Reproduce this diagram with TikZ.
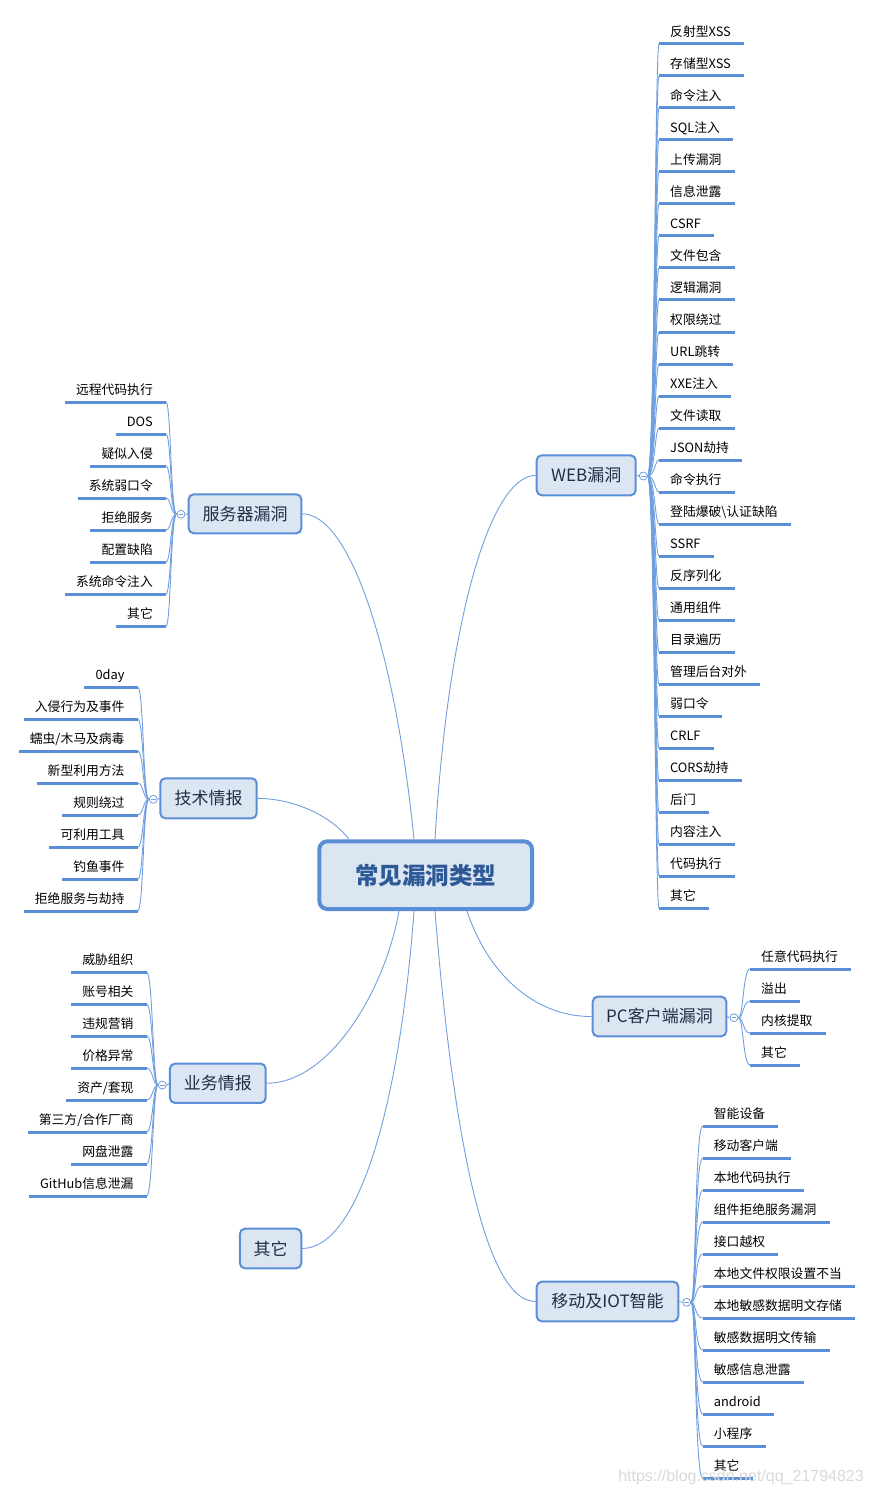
\documentclass[tikz,border=0pt]{standalone}
\usepackage{fontspec}
\setmainfont{Noto Sans CJK SC}
\newfontfamily\wmfont{Liberation Sans}
\usetikzlibrary{calc}
\definecolor{bord}{HTML}{5A8ED6}
\definecolor{boxfill}{HTML}{DCE6F2}
\definecolor{connc}{HTML}{6F9FE0}
\definecolor{ulc}{HTML}{5A8ED6}
\definecolor{toptext}{HTML}{1E2F45}
\definecolor{ctext}{HTML}{2D5A96}
\newcommand\lffont{\fontsize{12.8pt}{14pt}\selectfont}
\newcommand\tpfont{\fontsize{17pt}{19pt}\selectfont}
\newcommand\ctfont{\fontsize{23.5pt}{26pt}\selectfont\bfseries}
\begin{document}
\begin{tikzpicture}[x=1pt,y=-1pt,
  topic/.style={draw=bord, line width=2pt, fill=boxfill, rounded corners=5pt, font=\tpfont, text=toptext, inner sep=0pt},
  central/.style={draw=bord, line width=4pt, fill=boxfill, rounded corners=8pt, font=\ctfont, text=ctext, inner sep=0pt},
  leaf/.style={inner sep=0pt, font=\lffont, text=black, text height=10pt, text depth=7.6pt},
  uline/.style={draw=ulc, line width=3pt},
  conn/.style={draw=connc, line width=0.9pt},
  fold/.style={circle, draw=connc, line width=0.8pt, fill=white, minimum size=8pt, inner sep=0pt,
    path picture={\draw[connc, line width=0.8pt] ([xshift=-2.3pt]path picture bounding box.center) -- ([xshift=2.3pt]path picture bounding box.center);}}
]
\useasboundingbox (0,0) rectangle (873,1495);

% central and main topics
\node[central, minimum width=212.7pt, minimum height=67.7pt] (C) at (425.7,875.2) {常见漏洞类型};
\node[topic, minimum width=99pt, minimum height=40pt] (W) at (586.2,475.3) {WEB漏洞};
\node[topic, minimum width=112.6pt, minimum height=39pt] (S) at (245,513.8) {服务器漏洞};
\node[topic, minimum width=96.4pt, minimum height=40pt] (T) at (208.5,798.3) {技术情报};
\node[topic, minimum width=95.7pt, minimum height=39.3pt] (B) at (217.8,1083.3) {业务情报};
\node[topic, minimum width=61.3pt, minimum height=39.6pt] (O) at (270.6,1248.5) {其它};
\node[topic, minimum width=133.6pt, minimum height=39.6pt] (P) at (659.5,1016.5) {PC客户端漏洞};
\node[topic, minimum width=141.6pt, minimum height=39.6pt] (M) at (607.5,1301.5) {移动及IOT智能};

% connectors from central topic
\draw[conn] ([xshift=-11.7pt]C.north) .. controls (395,650) and (350,514) .. (S.east);
\draw[conn] ([xshift=9.3pt]C.north) .. controls (448,620) and (490,476) .. (W.west);
\draw[conn] ([xshift=-76.7pt]C.north) .. controls (335,820) and (300,799) .. (T.east);
\draw[conn] ([xshift=-26.7pt]C.south) .. controls (385,990) and (330,1083) .. (B.east);
\draw[conn] ([xshift=-11.7pt]C.south) .. controls (400,1100) and (360,1248) .. (O.east);
\draw[conn] ([xshift=9.3pt]C.south) .. controls (450,1100) and (480,1302) .. (M.west);
\draw[conn] ([xshift=41.3pt]C.south) .. controls (490,980) and (540,1017) .. (P.west);

% fold circles
\node[fold] (wc) at (643.3,476) {};
\node[fold] (sc) at (181,514.3) {};
\node[fold] (tc) at (153.3,799.3) {};
\node[fold] (bc) at (162.3,1085) {};
\node[fold] (pc) at (734,1017.7) {};
\node[fold] (mc) at (686.7,1302.3) {};
\draw[conn] (W.east) -- (wc.west);
\draw[conn] (S.west) -- (sc.east);
\draw[conn] (T.west) -- (tc.east);
\draw[conn] (B.west) -- (bc.east);
\draw[conn] (P.east) -- (pc.west);
\draw[conn] (M.east) -- (mc.west);

% WEB leaves
\foreach \lbl [count=\i from 0] in {反射型XSS, 存储型XSS, 命令注入, SQL注入, 上传漏洞, 信息泄露, CSRF, 文件包含, 逻辑漏洞, 权限绕过, URL跳转, XXE注入, 文件读取, JSON劫持, 命令执行, 登陆爆破\textbackslash 认证缺陷, SSRF, 反序列化, 通用组件, 目录遍历, 管理后台对外, 弱口令, CRLF, CORS劫持, 后门, 内容注入, 代码执行, 其它}{
  \pgfmathsetmacro\U{44+32*\i}
  \node[leaf, anchor=south west] (w\i) at (659,\U) {\hspace*{11pt}\lbl\hspace*{13pt}};
  \draw[conn] (wc.east) .. controls +(7,0) and +(-4,0) .. (w\i.south west);
  \draw[uline] (w\i.south west) -- (w\i.south east);
}

% server leaves
\foreach \lbl [count=\i from 0] in {远程代码执行, DOS, 疑似入侵, 系统弱口令, 拒绝服务, 配置缺陷, 系统命令注入, 其它}{
  \pgfmathsetmacro\U{402+32*\i}
  \node[leaf, anchor=south east] (s\i) at (166,\U) {\hspace*{11pt}\lbl\hspace*{13pt}};
  \draw[conn] (sc.west) .. controls +(-6,0) and +(5,0) .. (s\i.south east);
  \draw[uline] (s\i.south west) -- (s\i.south east);
}

% intelligence leaves
\foreach \lbl [count=\i from 0] in {0day, 入侵行为及事件, 蠕虫/木马及病毒, 新型利用方法, 规则绕过, 可利用工具, 钓鱼事件, 拒绝服务与劫持}{
  \pgfmathsetmacro\U{687+32*\i}
  \node[leaf, anchor=south east] (t\i) at (137.7,\U) {\hspace*{11pt}\lbl\hspace*{13pt}};
  \draw[conn] (tc.west) .. controls +(-6,0) and +(6,0) .. (t\i.south east);
  \draw[uline] (t\i.south west) -- (t\i.south east);
}

% business leaves
\foreach \lbl [count=\i from 0] in {威胁组织, 账号相关, 违规营销, 价格异常, 资产/套现, 第三方/合作厂商, 网盘泄露, GitHub信息泄漏}{
  \pgfmathsetmacro\U{972+32*\i}
  \node[leaf, anchor=south east] (b\i) at (146.7,\U) {\hspace*{11pt}\lbl\hspace*{13pt}};
  \draw[conn] (bc.west) .. controls +(-5,0) and +(6,0) .. (b\i.south east);
  \draw[uline] (b\i.south west) -- (b\i.south east);
}

% PC leaves
\foreach \lbl [count=\i from 0] in {任意代码执行, 溢出, 内核提取, 其它}{
  \pgfmathsetmacro\U{969+32*\i}
  \node[leaf, anchor=south west] (p\i) at (750,\U) {\hspace*{11pt}\lbl\hspace*{13pt}};
  \draw[conn] (pc.east) .. controls +(5,0) and +(-7,0) .. (p\i.south west);
  \draw[uline] (p\i.south west) -- (p\i.south east);
}

% mobile leaves
\foreach \lbl [count=\i from 0] in {智能设备, 移动客户端, 本地代码执行, 组件拒绝服务漏洞, 接口越权, 本地文件权限设置不当, 本地敏感数据明文存储, 敏感数据明文传输, 敏感信息泄露, android, 小程序, 其它}{
  \pgfmathsetmacro\U{1126+32*\i}
  \node[leaf, anchor=south west] (m\i) at (702.7,\U) {\hspace*{11pt}\lbl\hspace*{13pt}};
  \draw[conn] (mc.east) .. controls +(5,0) and +(-8,0) .. (m\i.south west);
  \draw[uline] (m\i.south west) -- (m\i.south east);
}

% watermark
\node[anchor=east, inner sep=0pt, font=\wmfont\fontsize{16pt}{18pt}\selectfont, text=black!15] (wm) at (864,1477) {https://blog.csdn.net/qq\_21794823};
\end{tikzpicture}
\end{document}
